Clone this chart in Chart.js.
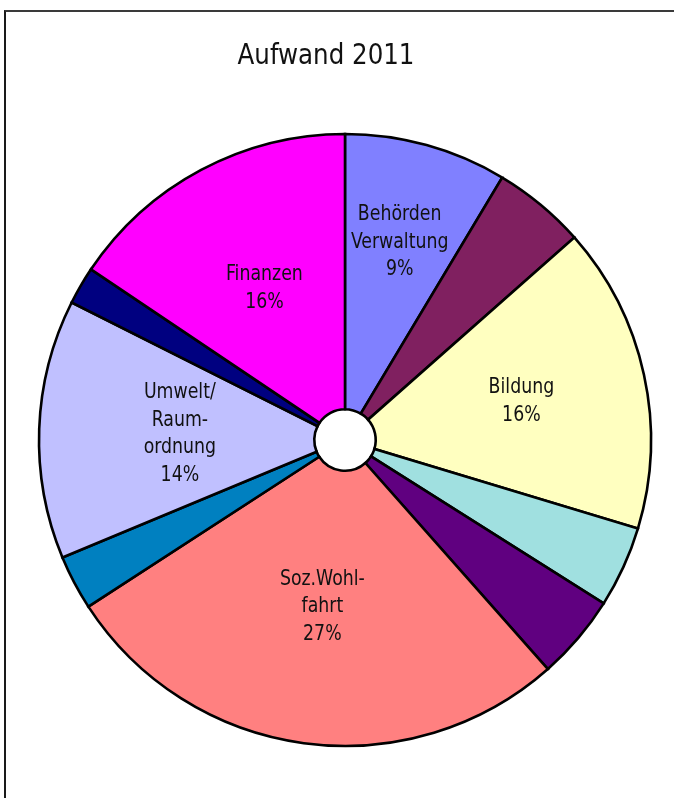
<!DOCTYPE html>
<html>
<head>
<meta charset="utf-8">
<script src="https://cdn.jsdelivr.net/npm/chart.js@4.4.0/dist/chart.umd.min.js"></script>
<style>
  html, body { margin: 0; padding: 0; background: #fff; }
  #wrap { position: relative; width: 674px; height: 798px; overflow: hidden; }
  #frame {
    position: absolute; left: 4px; top: 10px; width: 700px; height: 800px;
    border-top: 2px solid #3a3a3a; border-left: 2px solid #1a1a1a;
  }
  canvas { position: absolute; left: 0; top: 0; }
</style>
</head>
<body>
<div id="wrap">
  <div id="frame"></div>
  <canvas id="pie" width="674" height="798"></canvas>
</div>
<script>
/* Data (clockwise from 12 o'clock) */
const title = 'Aufwand 2011';
const categories = [
  'Behörden\nVerwaltung', '', 'Bildung', '', '',
  'Soz.Wohl-\nfahrt', '', 'Umwelt/\nRaum-\nordnung', '', 'Finanzen'
];
const shares = [8.6, 4.9, 16.2, 4.3, 4.5, 27.4, 2.9, 13.7, 2.0, 15.6];
const colors = [
  '#8080FF', '#802060', '#FFFFC0', '#A0E0E0', '#600080',
  '#FF8080', '#0080C0', '#C0C0FF', '#000080', '#FF00FF'
];
// where each label sits, as fraction of the outer radius
const labelRadius = [0.67, 0, 0.59, 0, 0, 0.55, 0, 0.54, 0, 0.56];

const FONT = '"DejaVu Sans Condensed", "DejaVu Sans", sans-serif';
const SQUEEZE = 0.94; // reference font is a bit narrower

// draw text squeezed horizontally around its centre
function narrowText(ctx, text, x, y) {
  ctx.save();
  ctx.translate(x, y);
  ctx.scale(SQUEEZE, 1);
  ctx.fillText(text, 0, 0);
  ctx.restore();
}

/* title + slice labels */
const textPlugin = {
  id: 'texts',
  afterDraw(chart) {
    const ctx = chart.ctx;
    ctx.save();
    ctx.fillStyle = '#111';
    ctx.textAlign = 'center';
    ctx.textBaseline = 'middle';
    ctx.font = '29px ' + FONT;
    narrowText(ctx, title, 326, 56);

    const total = shares.reduce((a, b) => a + b, 0);
    ctx.font = '20.5px ' + FONT;
    chart.getDatasetMeta(0).data.forEach((arc, i) => {
      if (!categories[i]) return;
      const p = arc.getProps(['x', 'y', 'startAngle', 'endAngle', 'outerRadius'], true);
      const mid = (p.startAngle + p.endAngle) / 2;
      const r = p.outerRadius * labelRadius[i];
      const cx = p.x + Math.cos(mid) * r;
      const cy = p.y + Math.sin(mid) * r;
      const lines = categories[i].split('\n');
      lines.push(Math.round(shares[i] / total * 100) + '%');
      const lh = 27.5;
      const y0 = cy - (lines.length - 1) * lh / 2;
      lines.forEach((t, k) => narrowText(ctx, t, cx, y0 + k * lh));
    });
    ctx.restore();
  }
};

new Chart(document.getElementById('pie'), {
  type: 'doughnut',
  data: {
    labels: categories.map(c => c.replace(/\n/g, ' ')),
    datasets: [{
      data: shares,
      backgroundColor: colors,
      borderColor: '#000',
      borderWidth: 2.6,
      borderJoinStyle: 'miter'
    }]
  },
  options: {
    responsive: false,
    animation: false,
    cutout: 31,
    radius: 306,
    layout: { padding: { left: 35, top: 130, right: 19, bottom: 48 } },
    plugins: {
      legend: { display: false },
      tooltip: { enabled: false },
      title: { display: false }
    }
  },
  plugins: [textPlugin]
});
</script>
</body>
</html>
